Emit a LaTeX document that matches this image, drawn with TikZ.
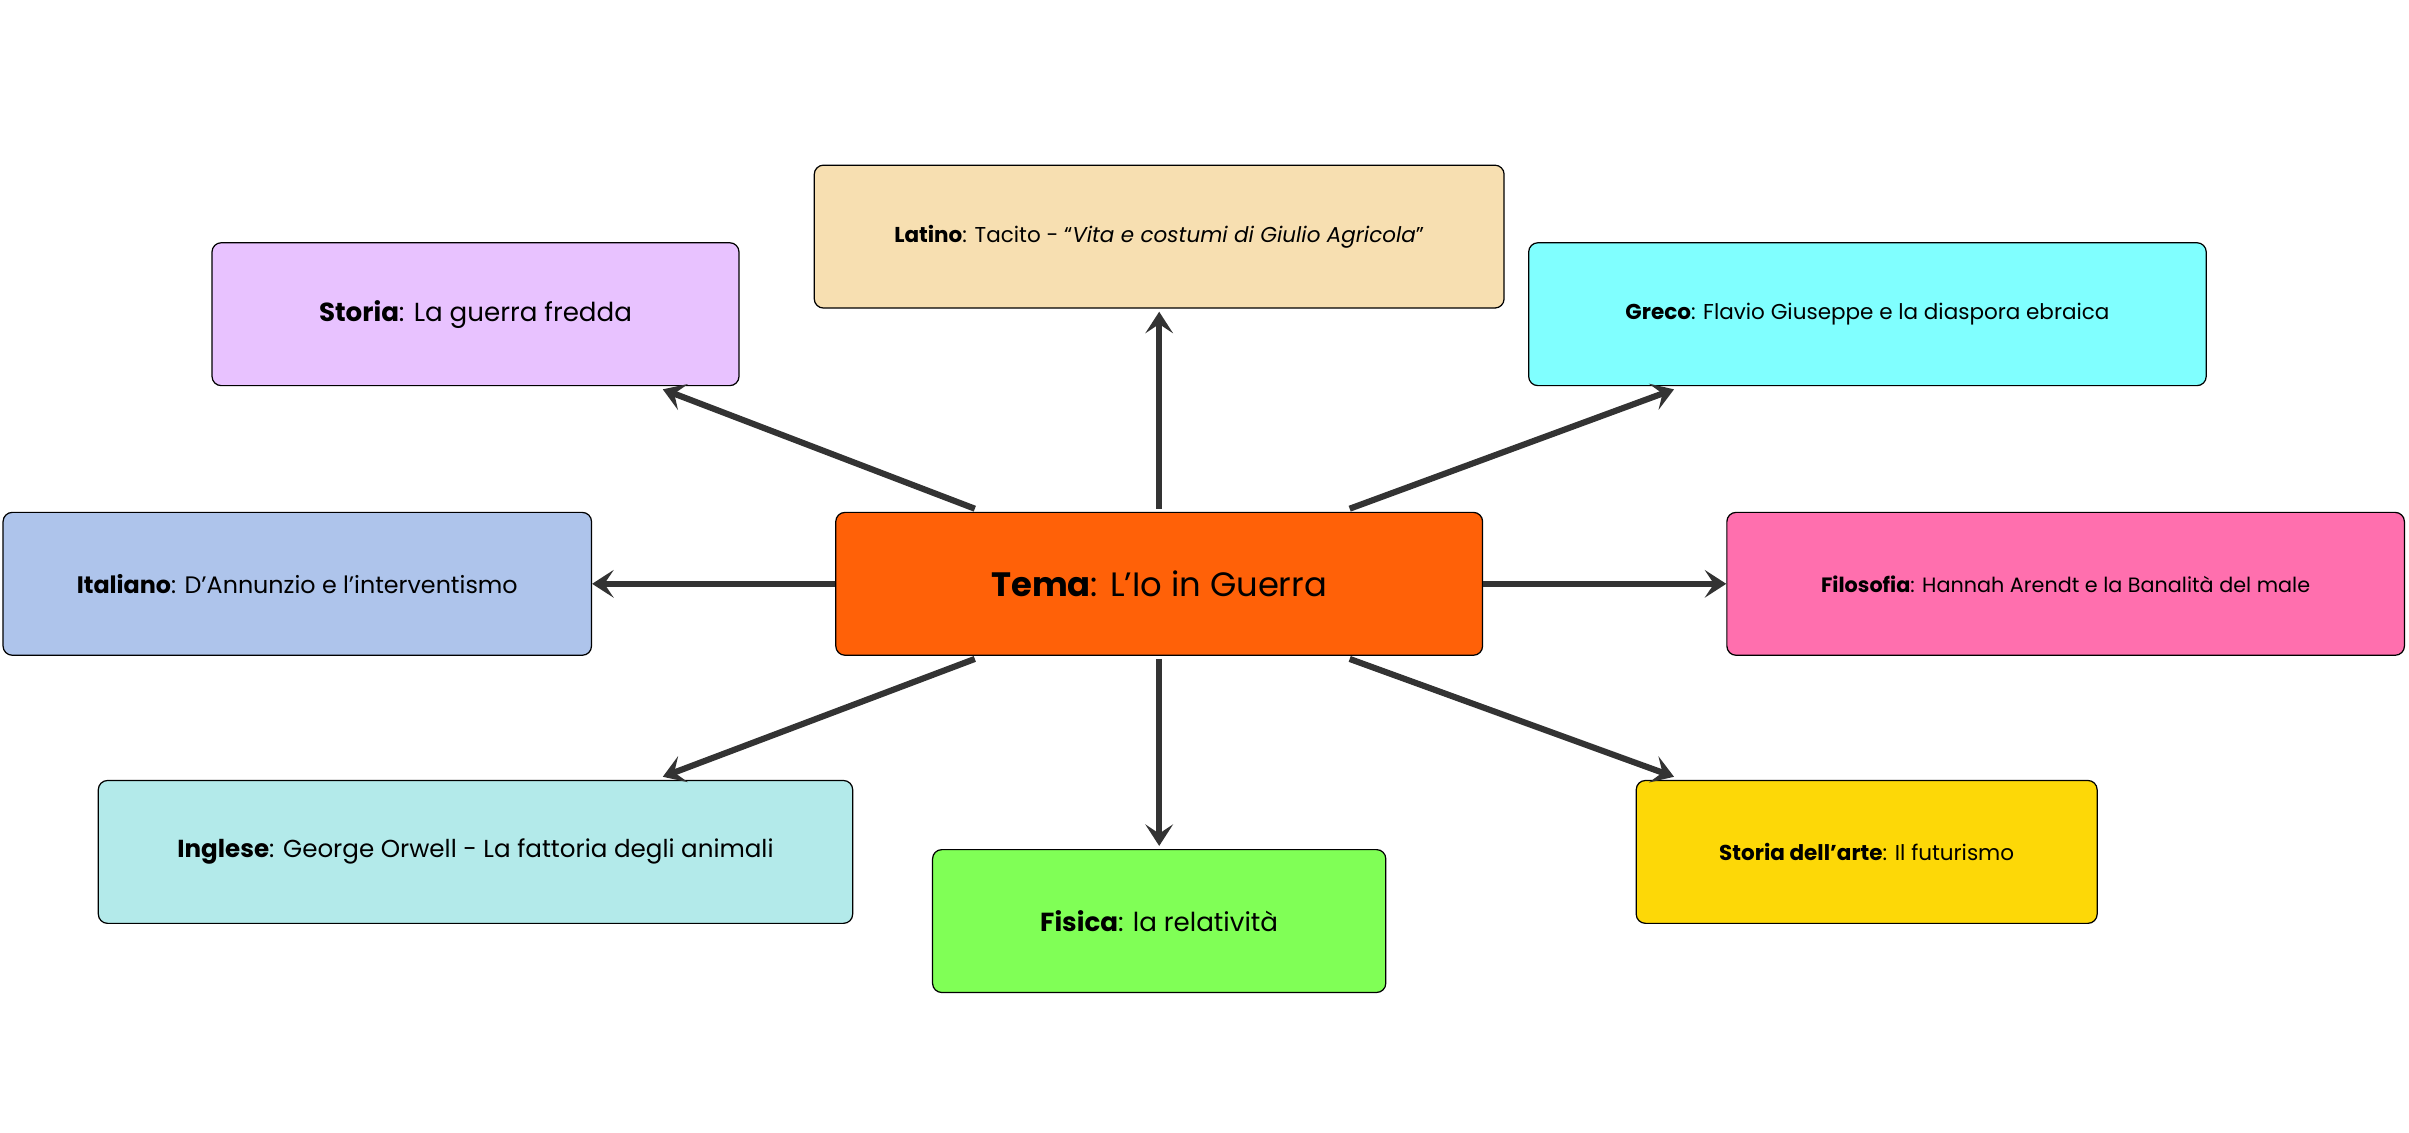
\documentclass[tikz,border=0pt]{standalone}
\usepackage{fontspec}
\setmainfont{Poppins}
\usetikzlibrary{arrows.meta,calc}
\definecolor{cLat}{HTML}{F7DFB1}
\definecolor{cSto}{HTML}{E8C2FF}
\definecolor{cGre}{HTML}{80FFFF}
\definecolor{cIta}{HTML}{AEC4EB}
\definecolor{cTem}{HTML}{FF6108}
\definecolor{cFil}{HTML}{FF6FAE}
\definecolor{cIng}{HTML}{B3EAEA}
\definecolor{cFis}{HTML}{80FF56}
\definecolor{cArt}{HTML}{FDD807}
\definecolor{cLine}{HTML}{333333}
\begin{document}
\begin{tikzpicture}[x=1pt,y=-1pt,
 box/.style={draw=black,line width=0.8pt,rounded corners=6pt,minimum height=93pt,inner sep=2pt,align=center,font=\fontsize{14}{16}\selectfont},
 arr/.style={draw=cLine,line width=4pt,-{Stealth[length=14pt,width=18pt,inset=6pt]}}]
\useasboundingbox (0,0) rectangle (1568,737);
\node[box,fill=cLat,minimum width=449pt] (lat) at (754.5,154) {\textbf{Latino}: Tacito - “\textit{Vita e costumi di Giulio Agricola}”};
\node[box,fill=cSto,minimum width=343pt,font=\fontsize{17}{19}\selectfont] (sto) at (309.5,204.5) {\textbf{Storia}: La guerra fredda};
\node[box,fill=cGre,minimum width=441pt] (gre) at (1215.5,204.5) {\textbf{Greco}: Flavio Giuseppe e la diaspora ebraica};
\node[box,fill=cIta,minimum width=383pt,font=\fontsize{15.5}{18}\selectfont] (ita) at (193.5,380) {\textbf{Italiano}: D’Annunzio e l’interventismo};
\node[box,fill=cTem,minimum width=421pt,font=\fontsize{22}{26}\selectfont] (tem) at (754.5,380) {\textbf{Tema}: L'Io in Guerra};
\node[box,fill=cFil,minimum width=441pt,font=\fontsize{13.5}{16}\selectfont] (fil) at (1344.5,380) {\textbf{Filosofia}: Hannah Arendt e la Banalità del male};
\node[box,fill=cIng,minimum width=491pt,font=\fontsize{16}{18}\selectfont] (ing) at (309.5,554.5) {\textbf{Inglese}: George Orwell - La fattoria degli animali};
\node[box,fill=cFis,minimum width=295pt,font=\fontsize{17}{19}\selectfont] (fis) at (754.5,599.5) {\textbf{Fisica}: la relatività};
\node[box,fill=cArt,minimum width=300pt] (art) at (1215,554.5) {\textbf{Storia dell’arte}: Il futurismo};
\draw[arr] ($(tem.north)+(-120,-2)$) -- ($(sto.south east)+(-50,2)$);
\draw[arr] ($(tem.north)+(0,-2)$) -- ($(lat.south)+(0,2)$);
\draw[arr] ($(tem.north)+(124,-2)$) -- ($(gre.south west)+(95,2)$);
\draw[arr] (tem.west) -- (ita.east);
\draw[arr] (tem.east) -- (fil.west);
\draw[arr] ($(tem.south)+(-120,2)$) -- ($(ing.north east)+(-124,-2)$);
\draw[arr] ($(tem.south)+(0,2)$) -- ($(fis.north)+(0,-2)$);
\draw[arr] ($(tem.south)+(124,2)$) -- ($(art.north west)+(25,-2)$);
\end{tikzpicture}
\end{document}
